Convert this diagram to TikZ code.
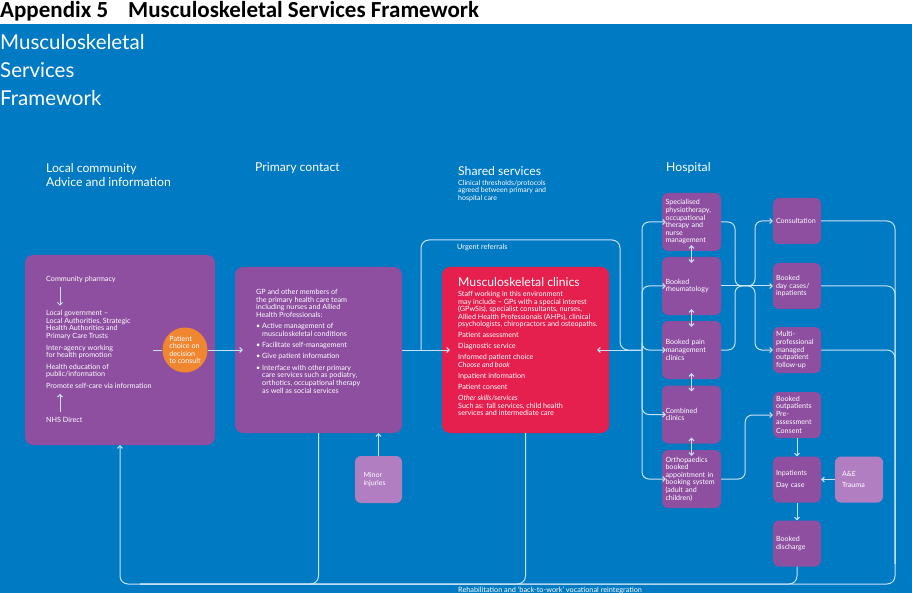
\documentclass[tikz,border=0pt]{standalone}
\usepackage{fontspec}
\setmainfont{Lato}
\newfontfamily\titlefont{Carlito}
\usetikzlibrary{arrows.meta}
\definecolor{msblue}{RGB}{0,122,194}
\definecolor{mspurple}{RGB}{142,79,160}
\definecolor{mslilac}{RGB}{178,126,194}
\definecolor{msred}{RGB}{230,32,78}
\definecolor{msorange}{RGB}{240,134,48}
\definecolor{msline}{RGB}{200,226,245}
\begin{document}
\begin{tikzpicture}[x=1pt,y=-1pt,>={Straight Barb[length=2.5pt,width=5pt]},
  flow/.style={draw=msline,line width=1pt},
  panel/.style={fill=mspurple,rounded corners=8pt,inner sep=0pt},
  hosp/.style={fill=mspurple,rounded corners=6pt,inner sep=0pt,minimum width=59pt,minimum height=58pt,text width=52pt,align=left,text=white,font=\fontsize{7.1}{7.6}\selectfont},
  ward/.style={hosp,minimum width=48pt,minimum height=46pt,text width=42pt},
  txt/.style={text=white,anchor=west,align=left,inner sep=0pt,font=\fontsize{7.2}{7.9}\selectfont},
  colhead/.style={txt,font=\fontsize{12.2}{14}\selectfont}]
	\fill[white] (0,0) rectangle (912,24);
	\fill[msblue] (0,24) rectangle (912,593);
	\useasboundingbox (0,0) rectangle (912,593);
	\node[anchor=base west,inner sep=0pt,font=\titlefont\bfseries\fontsize{23}{26}\selectfont] (appx) at (0,18) {Appendix 5\hspace{20pt}Musculoskeletal Services Framework};
	\node[txt,font=\fontsize{20.5}{28}\selectfont] (maintitle) at (0,70) {Musculoskeletal\\Services\\Framework};
	\node[colhead] (hcomm) at (46,175) {Local community\\Advice and information};
	\node[colhead] (hprim) at (255,168) {Primary contact};
	\node[colhead] (hshared) at (458,171) {Shared services};
	\node[txt,font=\fontsize{7}{7.2}\selectfont] (hsharedsub) at (458,191) {Clinical thresholds/protocols\\agreed between primary and\\hospital care};
	\node[colhead] (hhosp) at (666,168) {Hospital};
	\node[panel,minimum width=190pt,minimum height=190pt] (comm) at (120,350) {};
	\node[txt] (pharm) at (46,279) {Community pharmacy};
	\node[txt] (gov) at (46,325) {Local government --\\Local Authorities, Strategic\\Health Authorities and\\Primary Care Trusts};
	\node[txt] (inter) at (46,352) {Inter-agency working\\for health promotion};
	\node[txt] (health) at (46,371) {Health education of\\public/information};
	\node[txt] (promote) at (46,386) {Promote self-care via information};
	\node[txt] (nhs) at (46,420) {NHS Direct};
	\draw[flow,->] ([xshift=14pt,yshift=-5pt]pharm.south west) -- ([xshift=14pt,yshift=4pt]gov.north west);
	\draw[flow,->] ([xshift=14pt,yshift=5pt]nhs.north west) -- ([xshift=14pt,yshift=-5pt]promote.south west);
	\node[circle,fill=msorange,minimum size=45pt,inner sep=0pt,text=white,align=left,font=\fontsize{7.2}{7.4}\selectfont] (choice) at (185,350) {Patient\\choice on\\decision\\to consult};
	\coordinate (commout) at (153,350);
	\node[panel,minimum width=167pt,minimum height=166pt] (prim) at (318.5,350) {};
	\node[txt,anchor=north west,font=\fontsize{7.2}{7.7}\selectfont] (primtxt) at (256,289) {GP and other members of\\the primary health care team\\including nurses and Allied\\Health Professionals:\\[3.5pt]
	\textbullet\ Active management of\\\hphantom{\textbullet\ }musculoskeletal conditions\\[3.5pt]
	\textbullet\ Facilitate self-management\\[3.5pt]
	\textbullet\ Give patient information\\[3.5pt]
	\textbullet\ Interface with other primary\\\hphantom{\textbullet\ }care services such as podiatry,\\\hphantom{\textbullet\ }orthotics, occupational therapy\\\hphantom{\textbullet\ }as well as social services};
	\node[panel,fill=mslilac,rounded corners=6pt,minimum width=47pt,minimum height=47pt,text width=30pt,align=left,text=white,font=\fontsize{7}{7.8}\selectfont] (minor) at (378.5,479.5) {Minor\\injuries};
	\node[panel,fill=msred,minimum width=167pt,minimum height=166pt] (clinics) at (525.5,350) {};
	\node[txt,font=\fontsize{12.2}{13}\selectfont] (clinicshead) at (458,282) {Musculoskeletal clinics};
	\node[txt,anchor=north west,font=\fontsize{7.2}{7.5}\selectfont] (clinicstxt) at (458,291) {Staff working in this environment\\may include -- GPs with a special interest\\(GPwSIs), specialist consultants, nurses,\\Allied Health Professionals (AHPs), clinical\\psychologists, chiropractors and osteopaths.\\[3.6pt]
	Patient assessment\\[3.6pt]
	Diagnostic service\\[3.6pt]
	Informed patient choice\\\textit{Choose and book}\\[3.6pt]
	Inpatient information\\[3.6pt]
	Patient consent\\[3.6pt]
	\textit{Other skills/services}\\Such as: fall services, child health\\services and intermediate care};
	\node[hosp] (spec) at (691.5,222) {Specialised\\physiotherapy,\\occupational\\therapy and\\nurse\\management};
	\node[hosp] (rheum) at (691.5,286) {Booked\\rheumatology};
	\node[hosp] (pain) at (691.5,350) {Booked pain\\management\\clinics};
	\node[hosp] (comb) at (691.5,414.5) {Combined\\clinics};
	\node[hosp] (ortho) at (691.5,479) {Orthopaedics\\booked\\appointment in\\booking system\\(adult and\\children)};
	\node[ward] (consult) at (797,221) {Consultation};
	\node[ward] (daycase) at (797,286) {Booked\\day cases/\\inpatients};
	\node[ward] (multi) at (797,350) {Multi-\\professional\\managed\\outpatient\\follow-up};
	\node[ward] (outpat) at (797,415) {Booked\\outpatients\\Pre-\\assessment\\[2pt]Consent};
	\node[ward] (inpat) at (797,479.5) {Inpatients\\[4pt]Day case};
	\node[ward] (discharge) at (797,543.5) {Booked\\discharge};
	\node[ward,fill=mslilac,text width=34pt] (ae) at (859,479.5) {A\&E\\[4pt]Trauma};
	\coordinate (urg) at (421,350);
	\coordinate (urgtop) at (620,240);
	\coordinate (hub) at (642,350);
	\coordinate (mid) at (745,286);
	\coordinate (rright) at (895,584);
	\coordinate (rleft) at (120,584);
	\node[txt,font=\fontsize{7.3}{8}\selectfont] (urglabel) at (457,247) {Urgent referrals};
	\node[txt,font=\fontsize{7.3}{8}\selectfont] (rehab) at (458,590) {Rehabilitation and `back-to-work' vocational reintegration};
	\draw[flow] (commout) -- (choice);
	\draw[flow,->] (choice) -- ([xshift=8pt]prim.west);
	\draw[flow,->] (prim) -- ([xshift=8pt]clinics.west);
	\draw[flow,rounded corners=8pt] (urg) |- (urgtop) |- (hub);
	\draw[flow,->] (hub) -- ([xshift=-12pt]clinics.east);
	\foreach \b in {spec,rheum,pain,comb,ortho}
		\draw[flow,->,rounded corners=7pt] (hub) |- ([xshift=4pt]\b.west);
	\foreach \a/\b in {spec/rheum,rheum/pain,pain/comb,comb/ortho}
		\draw[flow,<->] ([yshift=6pt]\a.south) -- ([yshift=-6pt]\b.north);
	\draw[flow,rounded corners=7pt] (spec.east) -| ([xshift=-10pt]mid) -- (mid);
	\draw[flow] (rheum.east) -- (mid);
	\draw[flow,rounded corners=7pt] (pain.east) -| ([xshift=-10pt]mid) -- (mid);
	\draw[flow,->,rounded corners=7pt] (mid) -- ([xshift=10pt]mid) |- (consult.west);
	\draw[flow,->] (mid) -- (daycase.west);
	\draw[flow,->,rounded corners=7pt] (mid) -- ([xshift=10pt]mid) |- (multi.west);
	\draw[flow,->,rounded corners=7pt] (ortho.east) -- ++(24,0) |- (outpat.west);
	\draw[flow,->] (outpat) -- (inpat);
	\draw[flow,->] (inpat) -- (discharge);
	\draw[flow,->] (ae) -- (inpat);
	\draw[flow,->] (minor) -- (minor |- prim.south);
	\draw[flow,->,rounded corners=8pt] (consult.east) -| (rright) -- (rleft) -- (comm.south);
	\draw[flow,rounded corners=8pt] (daycase.east) -| ([yshift=20pt]rright);
	\draw[flow,rounded corners=8pt] (multi.east) -| ([yshift=20pt]rright);
	\foreach \n in {discharge,clinics,prim}
		\draw[flow,rounded corners=8pt] (\n.south) |- ([xshift=20pt]rleft);
\end{tikzpicture}
\end{document}
